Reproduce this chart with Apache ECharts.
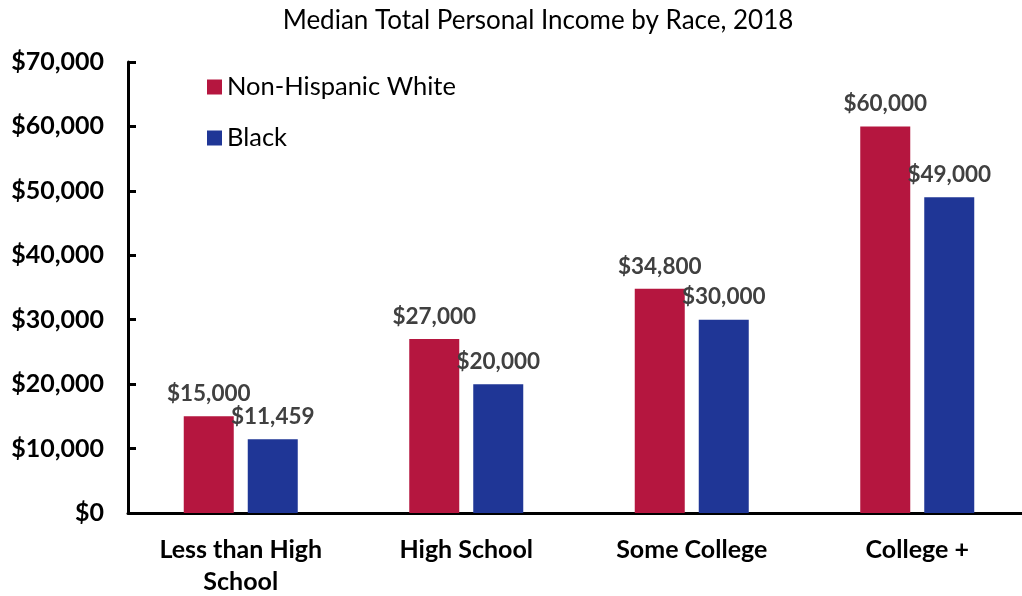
<!DOCTYPE html>
<html><head><meta charset="utf-8">
<script src="https://cdn.jsdelivr.net/npm/echarts@6/dist/echarts.min.js"></script>
<style>html,body{margin:0;padding:0;background:#fff}#c{width:1022px;height:596px}</style>
</head><body><div id="c"></div>
<script>
const categories = ['Less than High\nSchool', 'High School', 'Some College', 'College +'];
const whiteValues = [15000, 27000, 34800, 60000];
const blackValues = [11459, 20000, 30000, 49000];
const seriesNames = ['Non-Hispanic White', 'Black'];
const FONT = 'Lato';
const fmt = v => '$' + v.toLocaleString('en-US');
const chart = echarts.init(document.getElementById('c'));
const labelStyle = {show: true, position: 'top', distance: 11, formatter: p => fmt(p.value), fontFamily: FONT, fontWeight: 'bold', fontSize: 22.5, color: '#404040'};
chart.setOption({
  animation: false,
  title: {text: 'Median Total Personal Income by Race, 2018', left: 533, textAlign: 'center', top: 3, textStyle: {fontFamily: FONT, fontWeight: 'normal', fontSize: 26, color: '#000'}},
  legend: {orient: 'vertical', left: 202, top: 69, itemWidth: 15, itemHeight: 15, itemGap: 25, icon: 'rect', textStyle: {fontFamily: FONT, fontSize: 25.5, color: '#000'}, data: seriesNames},
  grid: {left: 128, right: -8, top: 62, bottom: 83, outerBoundsMode: 'none'},
  xAxis: {type: 'category', data: categories, axisLine: {lineStyle: {color: '#000', width: 3}}, axisTick: {show: false},
    axisLabel: {fontFamily: FONT, fontWeight: 'bold', fontSize: 25, color: '#000', margin: 21, lineHeight: 32}},
  yAxis: {type: 'value', min: 0, max: 70000, interval: 10000, splitLine: {show: false},
    axisLine: {show: true, lineStyle: {color: '#000', width: 3}}, axisTick: {show: true, inside: true, length: 8, lineStyle: {color: '#000', width: 3}},
    axisLabel: {formatter: v => fmt(v), fontFamily: FONT, fontWeight: 'bold', fontSize: 25, color: '#000', margin: 24}},
  series: [
    {name: seriesNames[0], type: 'bar', data: whiteValues, barWidth: 50, barGap: '28%', itemStyle: {color: '#B5163F'}, label: labelStyle},
    {name: seriesNames[1], type: 'bar', data: blackValues, barWidth: 50, itemStyle: {color: '#1F3696'}, label: labelStyle}
  ]
});
</script></body></html>
